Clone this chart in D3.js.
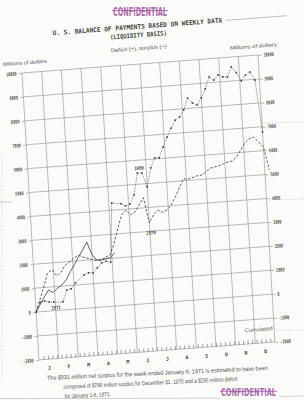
<!DOCTYPE html>
<html>
<head>
<meta charset="utf-8">
<script src="https://cdn.jsdelivr.net/npm/d3@7/dist/d3.min.js"></script>
<style>
  html, body { margin: 0; padding: 0; background: #fbfbf9; }
  svg { display: block; }
</style>
</head>
<body>
<div class="chart-container"></div>
<script>
// // Data (cumulated millions of dollars by week)
const monthLabels = ['J', 'F', 'M', 'A', 'M', 'J', 'J', 'A', 'S', 'O', 'N', 'D'];
const yTickValues = [10000, 9000, 8000, 7000, 6000, 5000, 4000, 3000, 2000, 1000, 0, -1000, -2000];

// 1969: dotted line with small square markers
const weeks1969 = [0, 1, 2, 3, 4, 6, 7, 8, 9, 11, 12, 13, 14, 15, 16, 17, 18, 20, 21, 22, 23, 24, 25, 26, 27, 28, 29, 30, 31, 32, 33, 34, 35, 36, 37, 38, 39, 40, 41, 42, 43, 44, 45, 46, 47, 48, 49, 50, 51, 52];
const values1969 = [0, 400, 430, 380, 360, 340, 820, 860, 1090, 1400, 1470, 1450, 1650, 1840, 1900, 1840, 4300, 4240, 4140, 4200, 4570, 5470, 5450, 4860, 5640, 6040, 6030, 6470, 6870, 7230, 7550, 7670, 7950, 8430, 8210, 8110, 8400, 8760, 9240, 9100, 9300, 9200, 9180, 9590, 9340, 8970, 9210, 9320, 8970, 6780];

// 1970: dashed line
const weeks1970 = [0, 2, 3, 4, 5, 6, 7, 8, 9, 10, 11, 12, 14, 15, 16, 17, 18, 19, 20, 21, 22, 23, 24, 25, 26, 27, 28, 29, 30, 31, 32, 34, 35, 37, 38, 39, 40, 42, 43, 44, 45, 46, 47, 48, 49, 50, 51, 52, 53];
const values1970 = [0, 1020, 1590, 1710, 1440, 1590, 1870, 1980, 2130, 2240, 2140, 2080, 1940, 1960, 2070, 2150, 2630, 3230, 3770, 3960, 3750, 3860, 4140, 4420, 3350, 3670, 3860, 3760, 3830, 4030, 4340, 5080, 5050, 5160, 5180, 5290, 5440, 5510, 5580, 5640, 5670, 5830, 6110, 6390, 6540, 6600, 6380, 6160, 5180];

// early solid trace (no label on it in the scan)
const weeksSolid = [0, 2, 3, 4, 5, 6, 7, 8, 9, 10, 11, 12, 13, 14, 15, 16, 17, 18];
const valuesSolid = [0, 610, 880, 760, 930, 1050, 1240, 1570, 1850, 2160, 2440, 2760, 2210, 1980, 1960, 2000, 2030, 2220];

const toPoints = (weeks, values) => d3.zip(weeks, values).map(([week, value]) => ({week, value}));

// // screen draw
function setupCanvas(){
    const svg_width = 304;
    const svg_height = 400;

    // plot box size, before the scan skew is applied
    const chart_width = 236.7;
    const chart_height = 287.5;

    const svg = d3.select('.chart-container').append('svg')
                  .attr('width', svg_width).attr('height', svg_height);
    svg.append('rect').attr('width', svg_width).attr('height', svg_height).attr('fill', '#fbfbf9');

    // the page was scanned a bit tilted, so the whole chart sits in a skewed group
    const this_svg = svg.append('g')
                        .attr('transform', 'matrix(0.997,-0.076,0.059,0.998,22,73)');

    // // scales
    const xScale = d3.scaleLinear([0, 52], [0, chart_width]);
    const monthScale = d3.scaleLinear([0, 12], [0, chart_width]);
    const yScale = d3.scaleLinear([-2000, 10000], [chart_height, 0]);

    const gridColor = '#868686';
    const inkColor = '#383838';

    // // grid
    this_svg.append('g').attr('class', 'grid-h')
            .selectAll('line').data(yTickValues).join('line')
            .attr('x1', 0).attr('x2', chart_width)
            .attr('y1', d => yScale(d)).attr('y2', d => yScale(d))
            .attr('stroke', gridColor).attr('stroke-width', 0.55);

    this_svg.append('g').attr('class', 'grid-v')
            .selectAll('line').data(d3.range(13)).join('line')
            .attr('x1', d => monthScale(d)).attr('x2', d => monthScale(d))
            .attr('y1', 0).attr('y2', chart_height)
            .attr('stroke', gridColor).attr('stroke-width', 0.55);

    // // axes: same scale on both sides
    const styleAxis = g => {
        g.select('.domain').remove();
        g.attr('font-family', '"DejaVu Sans Mono", monospace').attr('font-size', 5.2).attr('font-weight', 'bold');
        g.selectAll('line').attr('stroke', gridColor).attr('stroke-width', 0.55);
        g.selectAll('text').attr('fill', '#555')
         .attr('textLength', d => String(d).length * 2.1)
         .attr('lengthAdjust', 'spacingAndGlyphs');
    };

    const yAxisLeft = d3.axisLeft(yScale).tickValues(yTickValues).tickSize(3).tickPadding(2.5).tickFormat(d => d);
    this_svg.append('g').attr('class', 'y axis left').call(yAxisLeft).call(styleAxis);

    const yAxisRight = d3.axisRight(yScale).tickValues(yTickValues).tickSize(3.5).tickPadding(1.8).tickFormat(d => d);
    this_svg.append('g').attr('class', 'y axis right')
            .attr('transform', `translate(${chart_width},0)`)
            .call(yAxisRight).call(styleAxis);

    // weekly ticks standing up from the bottom line
    const xAxis = d3.axisBottom(xScale).tickValues(d3.range(1, 52)).tickSize(-3.5).tickFormat('');
    this_svg.append('g').attr('class', 'x axis')
            .attr('transform', `translate(0,${chart_height})`)
            .call(xAxis)
            .call(g => g.select('.domain').remove())
            .call(g => g.selectAll('line').attr('stroke', '#666').attr('stroke-width', 0.6));

    this_svg.append('g').attr('class', 'months')
            .selectAll('text').data(monthLabels).join('text')
            .attr('x', (d, i) => monthScale(i + 0.5))
            .attr('y', chart_height + 10.5)
            .attr('text-anchor', 'middle')
            .attr('font-family', '"DejaVu Sans Mono", monospace')
            .attr('font-weight', 'bold').attr('font-size', 5)
            .attr('fill', '#444')
            .text(d => d);

    // // lines
    const line = d3.line().x(d => xScale(d.week)).y(d => yScale(d.value));
    const data1969 = toPoints(weeks1969, values1969);
    const data1970 = toPoints(weeks1970, values1970);
    const dataSolid = toPoints(weeksSolid, valuesSolid);

    const lines = this_svg.append('g').attr('class', 'lines').attr('fill', 'none');
    lines.append('path').datum(dataSolid).attr('d', line)
         .attr('stroke', inkColor).attr('stroke-width', 0.75);
    lines.append('path').datum(data1970).attr('d', line)
         .attr('stroke', inkColor).attr('stroke-width', 0.75)
         .attr('stroke-dasharray', '2.6,1.6');
    lines.append('path').datum(data1969).attr('d', line)
         .attr('stroke', inkColor).attr('stroke-width', 0.55)
         .attr('stroke-dasharray', '1,0.8');
    lines.append('g').selectAll('rect').data(data1969).join('rect')
         .attr('x', d => xScale(d.week) - 0.75).attr('y', d => yScale(d.value) - 0.75)
         .attr('width', 1.5).attr('height', 1.5)
         .attr('fill', '#2e2e2e');

    // // line labels, hung off the data points they sit next to
    const labelStyle = sel => sel.attr('text-anchor', 'middle')
        .attr('font-family', '"DejaVu Sans Mono", monospace')
        .attr('font-weight', 'bold').attr('font-size', 5).attr('fill', '#444')
        .attr('textLength', 9.5).attr('lengthAdjust', 'spacingAndGlyphs');

    const peak69 = data1969.find(d => d.week === 24);
    const dip70 = data1970.find(d => d.week === 26);
    const start71 = data1969.find(d => d.week === 4);
    this_svg.append('text').text('1969').call(labelStyle)
            .attr('x', xScale(peak69.week) + 2).attr('y', yScale(peak69.value) - 3);
    this_svg.append('text').text('1970').call(labelStyle)
            .attr('x', xScale(dip70.week) + 1).attr('y', yScale(dip70.value) + 11.5);
    this_svg.append('text').text('1971').call(labelStyle)
            .attr('x', xScale(start71.week) + 2).attr('y', yScale(start71.value) + 7.5);

    this_svg.append('text').text('Cumulated')
            .attr('x', monthScale(10.5)).attr('y', yScale(-1500))
            .attr('font-family', '"Liberation Sans", sans-serif').attr('font-size', 5.2)
            .attr('fill', '#666').attr('textLength', 28).attr('lengthAdjust', 'spacingAndGlyphs');

    // // header (tilted together with the chart)
    const header = this_svg.append('g').attr('class', 'header');
    header.append('text').text('U. S. BALANCE OF PAYMENTS BASED ON WEEKLY DATA')
          .attr('x', 33).attr('y', -35.2)
          .attr('font-family', '"DejaVu Sans Mono", monospace').attr('font-weight', 'bold')
          .attr('font-size', 6.4).attr('fill', '#444')
          .attr('textLength', 170).attr('lengthAdjust', 'spacingAndGlyphs');
    header.append('line').attr('x1', 206).attr('x2', 268).attr('y1', -37).attr('y2', -37)
          .attr('stroke', '#9a9a9a').attr('stroke-width', 0.6);
    header.append('text').text('(LIQUIDITY BASIS)')
          .attr('x', 90).attr('y', -26.6)
          .attr('font-family', '"DejaVu Sans Mono", monospace').attr('font-weight', 'bold')
          .attr('font-size', 6.4).attr('fill', '#444')
          .attr('textLength', 57).attr('lengthAdjust', 'spacingAndGlyphs');
    header.append('text').text('Deficit (+), surplus (\u2212)')
          .attr('x', 90).attr('y', -14)
          .attr('font-family', '"Liberation Sans", sans-serif').attr('font-size', 5.4)
          .attr('fill', '#555').attr('textLength', 56).attr('lengthAdjust', 'spacingAndGlyphs');
    header.append('text').text('Millions of dollars')
          .attr('x', -18.5).attr('y', -8.4)
          .attr('font-family', '"Liberation Sans", sans-serif').attr('font-size', 5)
          .attr('fill', '#555').attr('textLength', 44).attr('lengthAdjust', 'spacingAndGlyphs');
    header.append('text').text('Millions of dollars')
          .attr('x', 209).attr('y', -7.4)
          .attr('font-family', '"Liberation Sans", sans-serif').attr('font-size', 5)
          .attr('fill', '#555').attr('textLength', 47).attr('lengthAdjust', 'spacingAndGlyphs');

    // // note under the chart, tilted a little less than the grid
    const note = svg.append('g').attr('transform', 'translate(47,380) rotate(-2.6)')
                    .attr('font-family', '"Liberation Sans", sans-serif').attr('font-size', 6)
                    .attr('fill', '#555');
    note.append('text').text('The $531 million net surplus for the week ended January 6, 1971 is estimated to have been')
        .attr('x', 0).attr('y', 0).attr('textLength', 221).attr('lengthAdjust', 'spacingAndGlyphs');
    note.append('text').text('composed of $796 million surplus for December 31, 1970 and a $265 million deficit')
        .attr('x', 16).attr('y', 9.6).attr('textLength', 174).attr('lengthAdjust', 'spacingAndGlyphs');
    note.append('text').text('for January 1-6, 1971.')
        .attr('x', 17).attr('y', 19).attr('textLength', 46).attr('lengthAdjust', 'spacingAndGlyphs');

    // // stamps
    const stampColor = '#9b4e9c';
    const stamp = (x, y, w, h) => {
        svg.append('text').text('CONFIDENTIAL')
           .attr('x', x).attr('y', y)
           .attr('font-family', '"DejaVu Sans Condensed", "DejaVu Sans", sans-serif')
           .attr('font-weight', 'bold').attr('font-size', h)
           .attr('fill', stampColor).attr('fill-opacity', 0.85)
           .attr('textLength', w).attr('lengthAdjust', 'spacingAndGlyphs');
        svg.append('line').attr('x1', x - 1).attr('x2', x + w + 1)
           .attr('y1', y - h * 0.45).attr('y2', y - h * 0.45)
           .attr('stroke', stampColor).attr('stroke-width', 0.9).attr('stroke-opacity', 0.85);
    };
    stamp(113, 16, 54, 12);
    stamp(221, 396, 55, 10.5);

    // // scan leftovers: page edge and faint rulings
    const faint = svg.append('g').attr('fill', 'none').attr('stroke', '#b4b4b4').attr('stroke-width', 0.6);
    faint.append('line').attr('x1', 0).attr('y1', 398.6).attr('x2', 219).attr('y2', 398.2);
    faint.append('line').attr('x1', 279).attr('y1', 396.5).attr('x2', 304).attr('y2', 396);
    faint.append('line').attr('x1', 1.8).attr('y1', 150).attr('x2', 1.8).attr('y2', 380).attr('stroke-dasharray', '1,1.5');
    faint.append('line').attr('x1', 0).attr('y1', 202).attr('x2', 12).attr('y2', 202);
    faint.append('line').attr('x1', 262).attr('y1', 123).attr('x2', 304).attr('y2', 122).attr('stroke-dasharray', '1,1.5');
    faint.append('line').attr('x1', 270).attr('y1', 200).attr('x2', 304).attr('y2', 199).attr('stroke-dasharray', '1,1.5');
    faint.append('line').attr('x1', 276).attr('y1', 330).attr('x2', 304).attr('y2', 330).attr('stroke-dasharray', '1,1.5');
}

setupCanvas();
</script>
</body>
</html>
